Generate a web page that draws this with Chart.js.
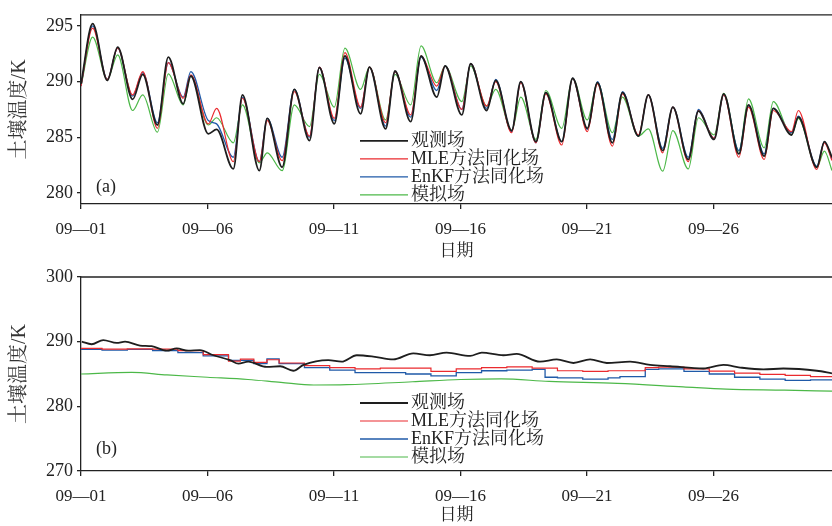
<!DOCTYPE html>
<html>
<head>
<meta charset="utf-8">
<script src="https://cdn.jsdelivr.net/npm/chart.js@4.4.1/dist/chart.umd.min.js"></script>
<style>
  html, body { margin: 0; padding: 0; background: #fff; }
  #wrap { position: relative; width: 832px; height: 526px; overflow: hidden; }
  canvas { position: absolute; left: 0; }
  #chartA { top: 0; }
  #chartB { top: 262px; }
</style>
</head>
<body>
<div id="wrap">
  <canvas id="chartA" width="832" height="262"></canvas>
  <canvas id="chartB" width="832" height="264"></canvas>
</div>
<script>
// --- data (days since 09-01 00:00) ---
const seriesNames = ['观测场', 'MLE方法同化场', 'EnKF方法同化场', '模拟场'];
const dayTicks = [0, 5, 10, 15, 20, 25];
const dayLabels = ['09—01', '09—06', '09—11', '09—16', '09—21', '09—26'];
const yTicksA = [280, 285, 290, 295];
const yTicksB = [270, 280, 290, 300];

// panel (a): daily troughs / peaks
const timeA = [0, 0.46, 1.04, 1.45, 2.04, 2.44, 3.02, 3.45, 4.04, 4.34, 5.03, 5.36, 6.02, 6.38, 7.05, 7.36,
  7.95, 8.43, 9.03, 9.42, 10.01, 10.43, 11.05, 11.4, 12.04, 12.41, 13.03, 13.44, 14.06, 14.39, 15.05, 15.4,
  16.03, 16.39, 17.02, 17.38, 17.98, 18.37, 19.0, 19.43, 20.01, 20.41, 21.0, 21.4, 22.03, 22.42, 22.99, 23.39,
  24.0, 24.4, 25.02, 25.4, 26.0, 26.38, 27.0, 27.36, 28.08, 28.35, 29.08, 29.38, 29.68];
const obsA = [289.8, 295.2, 290.1, 293.1, 288.4, 290.65, 286.1, 292.2, 288.0, 290.5, 285.3, 285.7, 282.15, 288.8, 282.0, 286.7,
  282.3, 289.3, 284.7, 291.25, 286.2, 292.3, 287.1, 291.3, 285.75, 290.95, 286.4, 292.3, 288.6, 291.4, 287.0, 291.6,
  287.4, 290.1, 285.6, 290.0, 284.6, 289.0, 284.6, 290.3, 285.8, 289.9, 284.5, 289.0, 285.1, 288.8, 283.8, 287.7,
  283.0, 287.35, 284.8, 288.9, 283.5, 287.9, 283.3, 287.6, 285.2, 286.8, 282.3, 284.6, 283.2];
const mleA = [289.6, 294.8, 290.2, 293.0, 288.8, 290.9, 285.8, 291.7, 288.5, 290.6, 286.2, 287.6, 282.8, 288.5, 282.8, 286.5,
  282.9, 289.1, 285.1, 291.3, 286.7, 292.6, 287.7, 291.3, 286.3, 290.9, 287.0, 292.3, 289.6, 291.4, 287.5, 291.6,
  287.8, 290.0, 285.4, 289.9, 284.5, 288.9, 284.3, 290.3, 285.5, 289.8, 284.2, 288.9, 285.2, 288.8, 283.6, 287.7,
  282.8, 287.4, 284.9, 288.8, 283.2, 287.7, 283.0, 287.4, 285.5, 287.4, 282.1, 284.5, 282.9];
const enkfA = [289.6, 295.0, 290.2, 293.0, 288.7, 290.8, 286.3, 291.7, 288.6, 290.9, 286.5, 286.2, 283.2, 288.6, 282.8, 286.7,
  283.2, 289.3, 285.0, 291.3, 286.5, 292.1, 287.6, 291.3, 286.0, 290.9, 286.8, 292.2, 289.2, 291.4, 287.5, 291.6,
  287.6, 290.2, 285.5, 290.0, 284.5, 289.0, 284.6, 290.3, 285.7, 290.0, 284.8, 289.1, 285.1, 288.8, 284.0, 287.7,
  283.2, 287.5, 284.9, 288.8, 283.8, 287.8, 283.5, 287.6, 285.4, 286.9, 282.4, 284.6, 283.0];
const simA = [289.6, 294.0, 290.2, 292.4, 287.4, 288.8, 285.45, 290.7, 287.9, 290.5, 286.1, 286.75, 284.5, 287.9, 282.7, 283.6,
  282.0, 287.9, 285.95, 290.65, 287.7, 293.0, 289.3, 291.3, 286.55, 290.65, 287.9, 293.2, 289.9, 291.4, 288.2, 291.4,
  287.8, 289.3, 285.6, 288.6, 284.8, 289.2, 285.8, 290.3, 286.55, 289.9, 285.4, 288.6, 285.1, 285.75, 281.95, 285.6,
  282.15, 286.75, 285.2, 288.95, 283.75, 288.45, 284.05, 288.2, 285.2, 286.7, 282.3, 283.75, 282.0];

// panel (b)
const obsTimeB = [0.03, 0.42, 0.88, 1.41, 1.74, 2.33, 2.79, 3.39, 3.78, 4.24, 4.7, 5.23, 5.89, 6.22, 6.61, 7.34, 7.87,
  8.39, 8.79, 9.77, 10.3, 10.9, 11.55, 12.34, 13.13, 13.79, 14.45, 15.38, 15.84, 16.69, 17.22, 18.14, 18.8,
  19.46, 20.12, 20.78, 21.7, 22.49, 23.28, 24.6, 25.39, 26.05, 26.97, 27.76, 29.08, 29.68];
const obsB = [290.0, 289.6, 290.25, 289.8, 290.0, 289.4, 289.3, 288.6, 288.95, 288.6, 288.7, 287.9, 287.15, 286.6, 286.9, 286.1, 286.2,
  285.5, 286.4, 287.15, 286.9, 287.9, 287.7, 287.25, 288.2, 287.9, 288.3, 287.8, 288.3, 287.9, 288.1, 286.9, 287.25,
  286.7, 287.25, 286.7, 286.9, 286.4, 286.2, 285.85, 286.4, 286.0, 285.7, 285.85, 285.5, 285.1];
const mleTimeB = [0, 0.83, 1.83, 2.83, 3.83, 4.83, 5.83, 6.3, 6.83, 7.35, 7.83, 8.83, 9.83, 10.83, 11.83, 12.83, 13.83,
  14.83, 15.83, 16.83, 17.83, 18.83, 19.83, 20.83, 22.3, 22.83, 23.83, 24.83, 25.83, 26.83, 27.83, 28.83, 29.68];
const mleB = [288.95, 288.85, 288.9, 288.85, 288.6, 288.0, 287.0, 287.3, 286.8, 287.2, 286.7, 286.3, 286.0, 285.8, 285.9, 285.9, 285.4,
  285.8, 286.0, 286.1, 285.9, 285.5, 285.4, 285.5, 286.0, 286.05, 285.8, 285.45, 285.15, 284.95, 284.8, 284.6, 284.6];
const enkfTimeB = [0, 0.83, 1.83, 2.83, 3.83, 4.83, 5.83, 6.83, 7.35, 7.83, 8.83, 9.83, 10.83, 11.83, 12.83, 13.83, 14.83,
  15.83, 16.83, 17.83, 18.34, 18.83, 19.83, 20.83, 21.3, 22.3, 22.83, 23.83, 24.83, 25.83, 26.83, 27.83, 28.83, 29.68];
const enkfB = [288.8, 288.7, 288.8, 288.6, 288.3, 287.8, 287.1, 286.6, 287.35, 286.6, 286.0, 285.6, 285.2, 285.2, 285.0, 284.7, 285.2,
  285.5, 285.6, 285.7, 284.5, 284.4, 284.2, 284.4, 284.6, 285.7, 285.8, 285.4, 285.0, 284.5, 284.2, 284.0, 284.1, 284.1];
const simTimeB = [0, 2.0, 3.4, 5.0, 6.6, 7.9, 9.2, 10.5, 13.1, 15.0, 16.6, 18.5, 21.2, 23.8, 25.5, 27.8, 29.68];
const simB = [285.0, 285.25, 284.85, 284.5, 284.15, 283.7, 283.3, 283.35, 283.8, 284.15, 284.25, 283.85, 283.55, 283.0, 282.65, 282.5, 282.35];

const colors = ['#1e1e1e', '#ea2a2e', '#1f5aa8', '#4cb848'];
const widths = [1.8, 1.2, 1.3, 1.2];
const FONT = "'Liberation Serif', 'Noto Serif CJK SC', 'Noto Sans CJK SC', serif";
const X_MAX = 29.68;

function pairs(xs, ys) {
    return xs.map((x, i) => ({ x: x, y: ys[i] }));
}

// legend, panel tag and top frame line
const panelDecor = {
    id: 'panelDecor',
    afterDatasetsDraw(chart, args, opts) {
        const { ctx, chartArea } = chart;
        ctx.save();
        ctx.strokeStyle = '#222';
        ctx.lineWidth = 1.3;
        ctx.beginPath();
        ctx.moveTo(chartArea.left, chartArea.top);
        ctx.lineTo(chartArea.right, chartArea.top);
        ctx.stroke();

        ctx.font = '18px ' + FONT;
        ctx.textBaseline = 'middle';
        ctx.textAlign = 'left';
        chart.data.datasets.forEach((ds, i) => {
            const y = chartArea.top + opts.legendTop + i * 18;
            ctx.strokeStyle = ds.borderColor;
            ctx.lineWidth = ds.borderWidth;
            ctx.beginPath();
            ctx.moveTo(360, y);
            ctx.lineTo(408, y);
            ctx.stroke();
            ctx.fillStyle = '#222';
            ctx.fillText(ds.label, 411, y);
        });
        ctx.fillText(opts.tag, 96, chartArea.top + opts.tagY);
        ctx.restore();
    }
};

function makeChart(id, datasets, yMin, yMax, yTicks, padTop, xAxisH, tag) {
    return new Chart(document.getElementById(id), {
        type: 'line',
        data: { datasets: datasets },
        plugins: [panelDecor],
        options: {
            responsive: false,
            animation: false,
            devicePixelRatio: 1,
            layout: { padding: { top: padTop, left: 0, right: 0, bottom: 0 } },
            elements: { point: { radius: 0 } },
            plugins: {
                legend: { display: false },
                tooltip: { enabled: false },
                panelDecor: { legendTop: 126, tag: tag, tagY: 172 }
            },
            scales: {
                x: {
                    type: 'linear',
                    min: 0,
                    max: X_MAX,
                    afterFit: s => { s.height = xAxisH; },
                    afterBuildTicks: s => { s.ticks = dayTicks.map(v => ({ value: v })); },
                    ticks: {
                        autoSkip: false,
                        maxRotation: 0,
                        padding: 10,
                        color: '#222',
                        font: { family: FONT, size: 17 },
                        callback: v => dayLabels[dayTicks.indexOf(v)]
                    },
                    grid: { drawOnChartArea: false, drawTicks: true, tickLength: 5, color: '#222', lineWidth: 1.3 },
                    border: { color: '#222', width: 1.3 },
                    title: {
                        display: true,
                        text: '日期',
                        color: '#222',
                        font: { family: FONT, size: 17 },
                        padding: { top: 0, bottom: 0 }
                    }
                },
                y: {
                    min: yMin,
                    max: yMax,
                    afterFit: s => { s.width = 81; },
                    afterBuildTicks: s => { s.ticks = yTicks.map(v => ({ value: v })); },
                    ticks: {
                        padding: 4,
                        color: '#222',
                        font: { family: FONT, size: 18 }
                    },
                    grid: { drawOnChartArea: false, drawTicks: true, tickLength: 4, color: '#222', lineWidth: 1.3 },
                    border: { color: '#222', width: 1.3 },
                    title: {
                        display: true,
                        text: '土壤温度/K',
                        color: '#333',
                        font: { family: FONT, size: 20 },
                        padding: { top: 8, bottom: 0 }
                    }
                }
            }
        }
    });
}

function lineSet(i, points, opts) {
    return Object.assign({
        label: seriesNames[i],
        data: points,
        borderColor: colors[i],
        borderWidth: widths[i],
        fill: false,
        pointRadius: 0
    }, opts || {});
}

const smooth = { cubicInterpolationMode: 'monotone' };

makeChart('chartA', [
    lineSet(0, pairs(timeA, obsA), smooth),
    lineSet(1, pairs(timeA, mleA), smooth),
    lineSet(2, pairs(timeA, enkfA), smooth),
    lineSet(3, pairs(timeA, simA), smooth)
], 279, 296, yTicksA, 11, 58, '(a)');

makeChart('chartB', [
    lineSet(0, pairs(obsTimeB, obsB), smooth),
    lineSet(1, pairs(mleTimeB, mleB), { stepped: true }),
    lineSet(2, pairs(enkfTimeB, enkfB), { stepped: true }),
    lineSet(3, pairs(simTimeB, simB), smooth)
], 270, 300, yTicksB, 15, 55, '(b)');
</script>
</body>
</html>
